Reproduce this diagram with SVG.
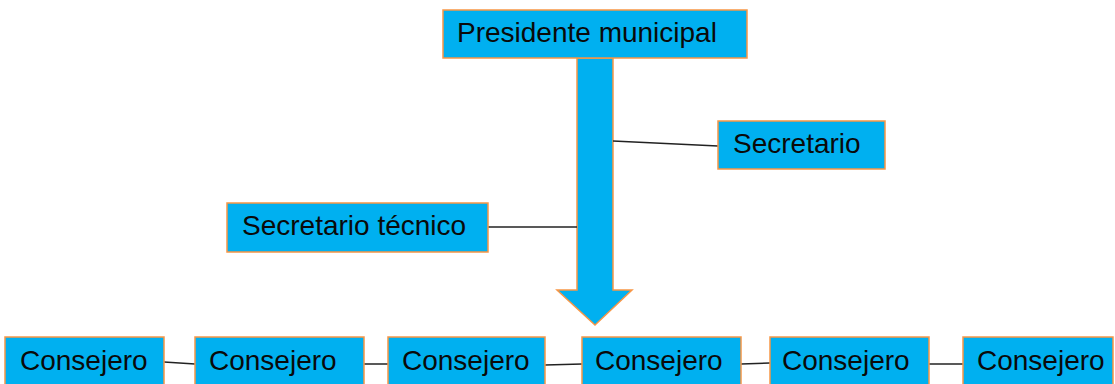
<svg xmlns="http://www.w3.org/2000/svg" width="1115" height="384" viewBox="0 0 1115 384">
<style>
.box{fill:#00B0F0;stroke:#F79646;stroke-width:1.5}
.t{font-family:"Liberation Sans",Arial,sans-serif;font-size:28px;fill:#0a0a0a}
.ln{stroke:#222;stroke-width:1.5;fill:none}
</style>
<g id="connectors">
<path id="arrow" class="box" d="M577,58 H613 V290 H632 L595,325 L557,290 H577 Z"/>
<line class="ln" x1="613" y1="141" x2="718" y2="146"/>
<line class="ln" x1="488" y1="227" x2="577" y2="227"/>
<line class="ln" x1="164" y1="362" x2="195" y2="364"/>
<line class="ln" x1="364" y1="364" x2="388" y2="364"/>
<line class="ln" x1="545" y1="365" x2="582" y2="364"/>
<line class="ln" x1="741" y1="364" x2="770" y2="363"/>
<line class="ln" x1="929" y1="364" x2="963" y2="364"/>
</g>
<g id="presidente"><rect class="box" x="443" y="10" width="304" height="48"/><text class="t" x="457" y="42">Presidente municipal</text></g>
<g id="secretario"><rect class="box" x="718" y="121" width="167" height="48"/><text class="t" x="733" y="153">Secretario</text></g>
<g id="secretario-tecnico"><rect class="box" x="227" y="203" width="261" height="49"/><text class="t" x="242" y="235">Secretario técnico</text></g>
<g id="consejero1"><rect class="box" x="5" y="337" width="159" height="48"/><text class="t" x="20" y="370">Consejero</text></g>
<g id="consejero2"><rect class="box" x="195" y="337" width="169" height="48"/><text class="t" x="209" y="370">Consejero</text></g>
<g id="consejero3"><rect class="box" x="388" y="337" width="157" height="48"/><text class="t" x="402" y="370">Consejero</text></g>
<g id="consejero4"><rect class="box" x="582" y="337" width="159" height="48"/><text class="t" x="595" y="370">Consejero</text></g>
<g id="consejero5"><rect class="box" x="770" y="337" width="159" height="48"/><text class="t" x="782" y="370">Consejero</text></g>
<g id="consejero6"><rect class="box" x="963" y="337" width="150" height="48"/><text class="t" x="977" y="370">Consejero</text></g>
</svg>
